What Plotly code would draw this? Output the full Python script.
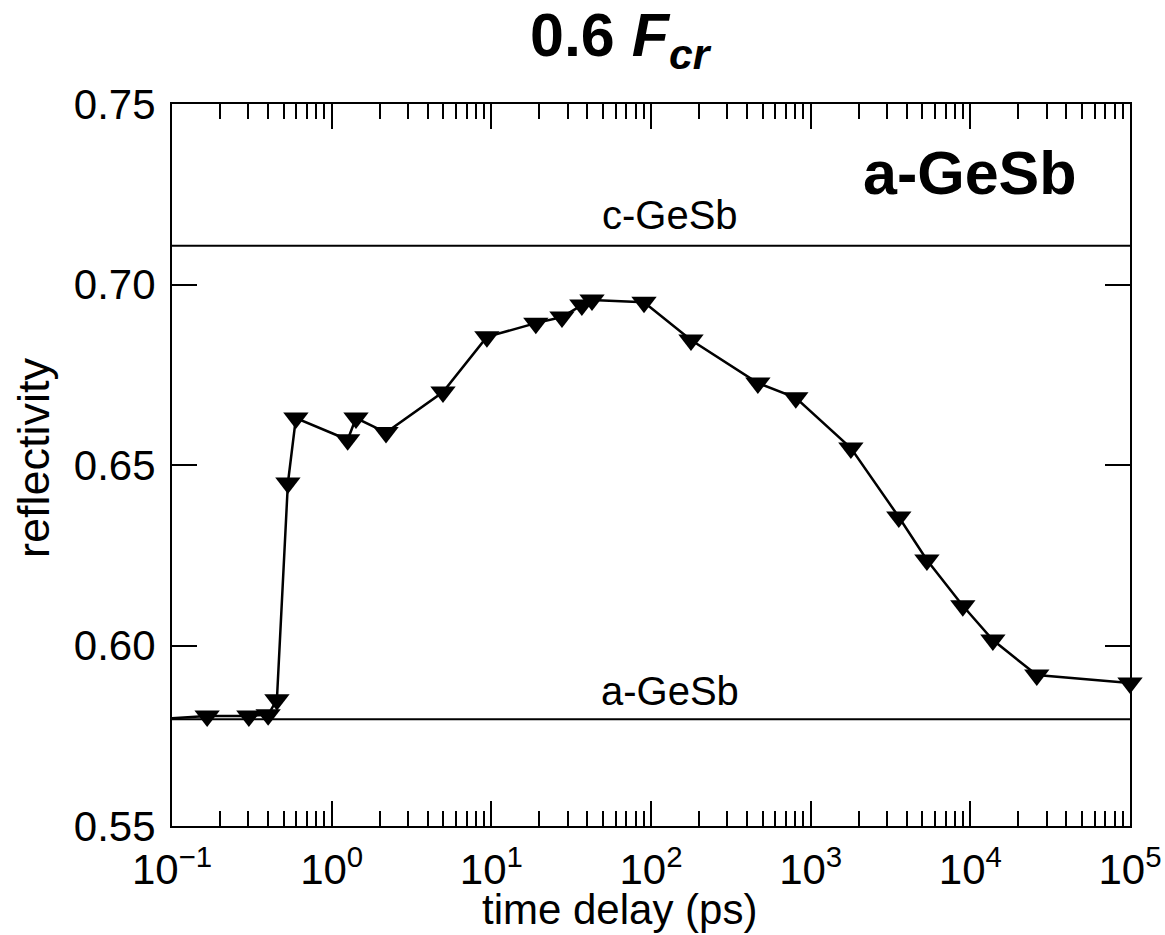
import plotly.graph_objects as go

# ---- data ----
delay_ps = [0.05, 0.166, 0.303, 0.40, 0.454, 0.532, 0.597, 1.26, 1.42, 2.19, 4.98,
            9.38, 19.0, 27.7, 36.9, 42.7, 90.4, 178, 467, 807, 1786, 3565, 5346,
            8970, 13840, 26070, 100000]
reflectivity = [0.579, 0.5805, 0.5805, 0.5808, 0.585, 0.645, 0.663, 0.657, 0.663,
                0.659, 0.6702, 0.6855, 0.6893, 0.691, 0.6943, 0.6957, 0.6951, 0.6846,
                0.6727, 0.6686, 0.6547, 0.6356, 0.6237, 0.611, 0.6015, 0.5918, 0.5896]
c_level = 0.7107
a_level = 0.5796
x_tickvals = [1e-1, 1e0, 1e1, 1e2, 1e3, 1e4, 1e5]
x_ticktext = ["10<sup>\u22121</sup>", "10<sup>0</sup>", "10<sup>1</sup>", "10<sup>2</sup>",
              "10<sup>3</sup>", "10<sup>4</sup>", "10<sup>5</sup>"]
y_tickvals = [0.55, 0.60, 0.65, 0.70, 0.75]
y_ticktext = ["0.55", "0.60", "0.65", "0.70", "0.75"]
minor_x = [m * 10.0 ** e for e in range(-1, 5) for m in range(2, 10)]

FONT = "Liberation Sans, Arial, Helvetica, sans-serif"

fig = go.Figure()
# line (includes the off-axis first point, clipped)
fig.add_trace(go.Scatter(x=delay_ps, y=reflectivity, mode="lines",
                         line=dict(color="black", width=2.5), showlegend=False,
                         cliponaxis=True))
# markers (not clipped at the right edge)
fig.add_trace(go.Scatter(x=delay_ps[1:], y=reflectivity[1:], mode="markers",
                         marker=dict(symbol="triangle-down", size=22, color="black",
                                     line=dict(width=0)),
                         showlegend=False, cliponaxis=False))

# reference levels
for lvl in (c_level, a_level):
    fig.add_shape(type="line", xref="paper", yref="y", x0=0, x1=1, y0=lvl, y1=lvl,
                  line=dict(color="black", width=2))

fig.add_annotation(text="c-GeSb", xref="paper", yref="paper", x=0.52, y=0.846,
                   showarrow=False, font=dict(family=FONT, size=40, color="black"),
                   xanchor="center", yanchor="middle")
fig.add_annotation(text="a-GeSb", xref="paper", yref="paper", x=0.52, y=0.187,
                   showarrow=False, font=dict(family=FONT, size=40, color="black"),
                   xanchor="center", yanchor="middle")
fig.add_annotation(text="<b>a-GeSb</b>", xref="paper", yref="paper", x=0.833, y=0.905,
                   showarrow=False, font=dict(family=FONT, size=61, color="black"),
                   xanchor="center", yanchor="middle")
fig.add_annotation(text="<b>0.6 <i>F</i><sub><i>cr</i></sub></b>", xref="paper", yref="paper",
                   x=0.469, y=1.09, showarrow=False,
                   font=dict(family=FONT, size=61, color="black"),
                   xanchor="center", yanchor="middle")
# axis titles
fig.add_annotation(text="time delay (ps)", xref="paper", yref="paper", x=0.4666, y=-0.116,
                   showarrow=False, font=dict(family=FONT, size=42, color="black"),
                   xanchor="center", yanchor="middle")
fig.add_annotation(text="reflectivity", xref="paper", yref="paper", x=-0.144, y=0.5097,
                   showarrow=False, textangle=-90,
                   font=dict(family=FONT, size=45, color="black"),
                   xanchor="center", yanchor="middle")

fig.update_xaxes(type="log", range=[-1, 5], showline=True, linecolor="black", linewidth=2,
                 mirror="ticks", ticks="inside", ticklen=25, tickwidth=2, tickcolor="black",
                 tickmode="array", tickvals=x_tickvals, ticktext=x_ticktext,
                 tickfont=dict(family=FONT, size=42, color="black"),
                 ticklabelstandoff=6,
                 minor=dict(tickmode="array", tickvals=minor_x, ticks="inside",
                            ticklen=15, tickwidth=2, tickcolor="black", showgrid=False),
                 showgrid=False, zeroline=False)
fig.update_yaxes(range=[0.55, 0.75], showline=True, linecolor="black", linewidth=2,
                 mirror="ticks", ticks="inside", ticklen=25, tickwidth=2, tickcolor="black",
                 tickmode="array", tickvals=y_tickvals, ticktext=y_ticktext,
                 tickfont=dict(family=FONT, size=42, color="black"),
                 ticklabelstandoff=6,
                 showgrid=False, zeroline=False)

fig.update_layout(width=1165, height=935, plot_bgcolor="white", paper_bgcolor="white",
                  margin=dict(l=172, r=35, t=104, b=109, autoexpand=False),
                  font=dict(family=FONT, color="black"))

fig.write_html("out.html")
